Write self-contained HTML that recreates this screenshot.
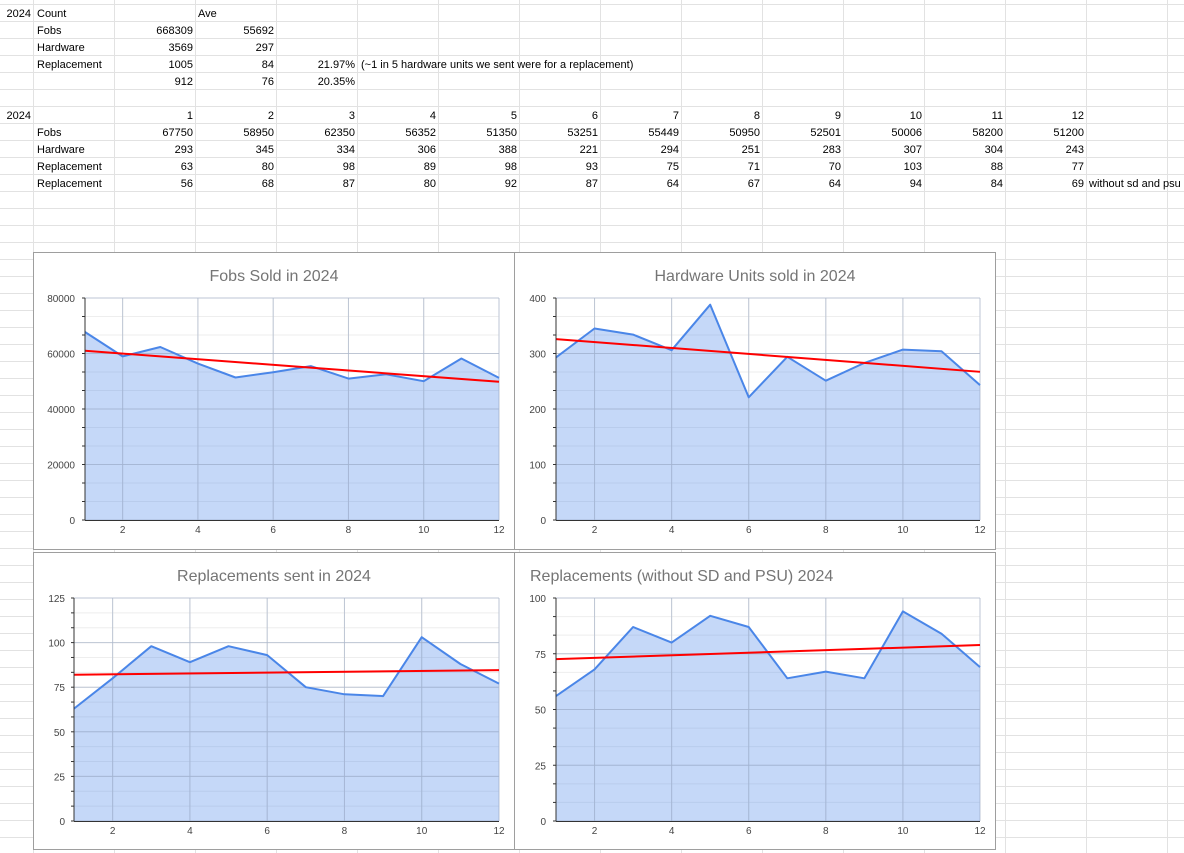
<!DOCTYPE html>
<html><head><meta charset="utf-8"><style>
html,body{margin:0;padding:0;background:#fff;width:1184px;height:853px;overflow:hidden}
svg{display:block;font-family:"Liberation Sans",Arial,sans-serif}
.c{font-size:11px;fill:#000}
.t{font-size:16px;fill:#757575}
.a{font-size:10px;fill:#444}
</style></head><body>
<svg id="s" width="1184" height="853" xmlns="http://www.w3.org/2000/svg">
<g id="grid" stroke="#e2e2e2" stroke-width="1"></g>
<g class="c">
<text x="31" y="17" text-anchor="end">2024</text><text x="37" y="17">Count</text><text x="198" y="17">Ave</text>
<text x="37" y="34">Fobs</text><text x="193" y="34" text-anchor="end">668309</text><text x="274" y="34" text-anchor="end">55692</text>
<text x="37" y="51">Hardware</text><text x="193" y="51" text-anchor="end">3569</text><text x="274" y="51" text-anchor="end">297</text>
<text x="37" y="68">Replacement</text><text x="193" y="68" text-anchor="end">1005</text><text x="274" y="68" text-anchor="end">84</text><text x="355" y="68" text-anchor="end">21.97%</text><text x="361" y="68">(~1 in 5 hardware units we sent were for a replacement)</text>
<text x="193" y="85" text-anchor="end">912</text><text x="274" y="85" text-anchor="end">76</text><text x="355" y="85" text-anchor="end">20.35%</text>
<text x="31" y="119" text-anchor="end">2024</text>
<text x="37" y="136">Fobs</text><text x="37" y="153">Hardware</text><text x="37" y="170">Replacement</text><text x="37" y="187">Replacement</text>
<text x="1089" y="187">without sd and psu</text>
</g>
<g id="tbl" class="c"></g>
<g id="charts"></g>
</svg>
<script>
var NS="http://www.w3.org/2000/svg";
function el(p,n,a,txt){var e=document.createElementNS(NS,n);for(var k in a)e.setAttribute(k,a[k]);if(txt!=null)e.textContent=txt;p.appendChild(e);return e;}
var g=document.getElementById('grid');
for(var y=4.5;y<853;y+=17)el(g,'line',{x1:0,x2:1184,y1:y,y2:y});
for(var x=33.5;x<1184;x+=81)el(g,'line',{x1:x,x2:x,y1:0,y2:853});
var t=document.getElementById('tbl');
var rows=[[1,2,3,4,5,6,7,8,9,10,11,12],[67750,58950,62350,56352,51350,53251,55449,50950,52501,50006,58200,51200],[293,345,334,306,388,221,294,251,283,307,304,243],[63,80,98,89,98,93,75,71,70,103,88,77],[56,68,87,80,92,87,64,67,64,94,84,69]];
rows.forEach(function(r,i){r.forEach(function(v,j){el(t,'text',{x:193+81*j,y:119+17*i,'text-anchor':'end'},v);});});
var C=document.getElementById('charts');
function chart(bx,by,title,tx,anchor,x0,x1,y0,y1,max,labels,lx,data,tr){
 var N=(labels.length-1)*3;
 el(C,'rect',{x:bx+0.5,y:by+0.5,width:481,height:297,fill:'#fff',stroke:'#9e9e9e'});
 el(C,'text',{x:tx,y:by+29,'text-anchor':anchor,'class':'t'},title);
 for(var k=0;k<=N;k++){var yy=y1+(y0-y1)*k/N;el(C,'line',{x1:x0,x2:x1,y1:yy,y2:yy,stroke:k%3==0?'#ddd':'#eee'});
  el(C,'line',{x1:x0-3,x2:x0,y1:yy,y2:yy,stroke:'#333'});}
 var dx=(x1-x0)/11;
 for(var m=2;m<=12;m+=2){var xx=x0+dx*(m-1);el(C,'line',{x1:xx,x2:xx,y1:y0,y2:y1,stroke:'#ddd'});
  el(C,'text',{x:xx,y:y1+13,'text-anchor':'middle','class':'a'},m);}
 labels.forEach(function(l,i){el(C,'text',{x:lx,y:y1-(y1-y0)*i/(labels.length-1)+4,'text-anchor':'end','class':'a'},l);});
 var pts=data.map(function(v,i){return (x0+dx*i).toFixed(1)+','+(y1-(y1-y0)*v/max).toFixed(1);});
 el(C,'polygon',{points:x0+','+y1+' '+pts.join(' ')+' '+x1+','+y1,fill:'#4a86e8','fill-opacity':'0.32'});
 for(var k=0;k<=N;k++){var yy=y1+(y0-y1)*k/N;if(k%3==0)el(C,'line',{x1:x0,x2:x1,y1:yy,y2:yy,stroke:'#9fb0cc','stroke-opacity':'0.5'});}
 for(var m=2;m<=12;m+=2){var xx=x0+dx*(m-1);el(C,'line',{x1:xx,x2:xx,y1:y0,y2:y1,stroke:'#9fb0cc','stroke-opacity':'0.5'});}
 el(C,'polyline',{points:pts.join(' '),fill:'none',stroke:'#4a86e8','stroke-width':2,'stroke-linejoin':'round'});
 el(C,'line',{x1:x0,x2:x1,y1:y1-(y1-y0)*tr[0]/max,y2:y1-(y1-y0)*tr[1]/max,stroke:'#f00','stroke-width':2});
 el(C,'line',{x1:x0,x2:x0,y1:y0,y2:y1+0.5,stroke:'#333'});
 el(C,'line',{x1:x0,x2:x1,y1:y1+0.5,y2:y1+0.5,stroke:'#333'});
}
chart(33,252,'Fobs Sold in 2024',274,'middle',85,499,298,520,80000,['0','20000','40000','60000','80000'],75,rows[1],[61000,49800]);
chart(514,252,'Hardware Units sold in 2024',755,'middle',556,980,298,520,400,['0','100','200','300','400'],546,rows[2],[326,267]);
chart(33,552,'Replacements sent in 2024',274,'middle',74,499,598,821,125,['0','25','50','75','100','125'],65,rows[3],[82,84.6]);
chart(514,552,'Replacements (without SD and PSU) 2024',530,'start',556,980,598,821,100,['0','25','50','75','100'],546,rows[4],[72.6,78.9]);
</script>
</body></html>
